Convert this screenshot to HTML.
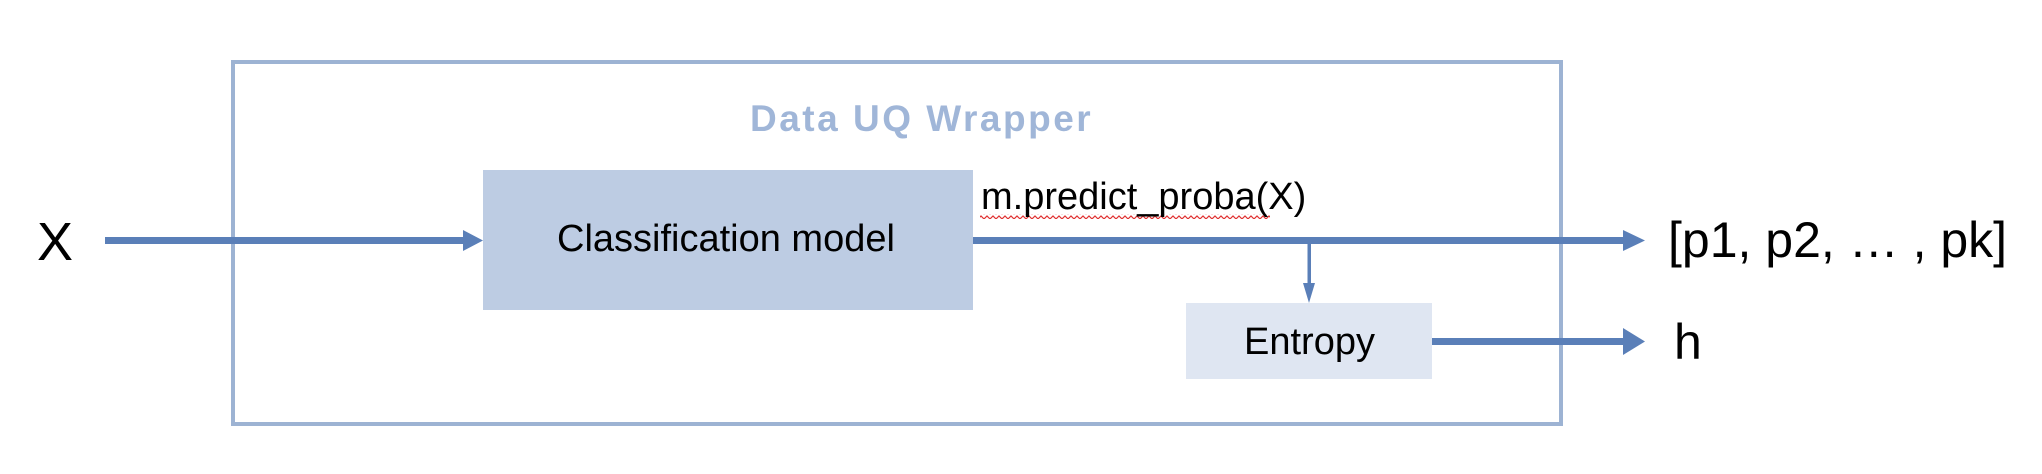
<!DOCTYPE html>
<html><head><style>
body{margin:0;width:2042px;height:474px;background:#fff;position:relative;overflow:hidden;font-family:"Liberation Sans",sans-serif}
.t{position:absolute;white-space:nowrap;color:#000}
</style></head><body>
<svg width="2042" height="474" style="position:absolute;left:0;top:0">
<defs><pattern id="sq" width="6" height="5" patternUnits="userSpaceOnUse"><path d="M0 4 L3 1 L6 4" stroke="#e03030" stroke-width="1.2" fill="none"/></pattern></defs>
<rect x="233" y="62" width="1328" height="362" fill="none" stroke="#9db3d3" stroke-width="4"/>
<rect x="483" y="170" width="490" height="140" fill="#bdcce3"/>
<rect x="1186" y="303" width="246" height="76" fill="#dfe6f2"/>
<g fill="#5a7fb8">
<rect x="105" y="237" width="360" height="7"/>
<polygon points="463,230 483,240.5 463,251"/>
<rect x="973" y="237" width="652" height="7"/>
<polygon points="1623,230 1645,240.5 1623,251"/>
<rect x="1307.5" y="243" width="3.5" height="45"/>
<polygon points="1303,283 1309,303 1315,283"/>
<rect x="1432" y="338" width="193" height="7"/>
<polygon points="1623,328 1645,341.5 1623,355"/>
</g>
<rect x="980" y="214" width="290" height="5" fill="url(#sq)"/>
</svg>
<div class="t" style="left:750px;top:98px;font-size:37px;font-weight:bold;color:#a0b6d8;letter-spacing:2.5px">Data UQ Wrapper</div>
<div class="t" style="left:557px;top:218px;font-size:38px">Classification model</div>
<div class="t" style="left:1244px;top:321px;font-size:38px">Entropy</div>
<div class="t" style="left:981px;top:176px;font-size:38px">m.predict_proba(X)</div>
<div class="t" style="left:37px;top:211px;font-size:54px">X</div>
<div class="t" style="left:1668px;top:211px;font-size:50px">[p1, p2, … , pk]</div>
<div class="t" style="left:1674px;top:313px;font-size:50px">h</div>
</body></html>
